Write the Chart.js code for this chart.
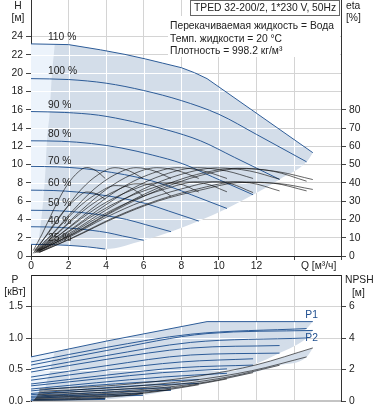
<!DOCTYPE html>
<html>
<head>
<meta charset="utf-8">
<script src="https://cdn.jsdelivr.net/npm/chart.js@4.4.0/dist/chart.umd.min.js"></script>
<style>
  body { margin: 0; background: #fff; width: 378px; height: 410px; overflow: hidden; position: relative; }
  #pumpTop { position: absolute; left: 0; top: 0; }
  #pumpBot { position: absolute; left: 0; top: 270px; }
</style>
</head>
<body>
<canvas id="pumpTop" width="378" height="275"></canvas>
<canvas id="pumpBot" width="378" height="140"></canvas>
<script>
const title = 'TPED 32-200/2, 1*230 V, 50Hz';
const infoLines = ['Перекачиваемая жидкость = Вода', 'Темп. жидкости = 20 °C', 'Плотность = 998.2 кг/м³'];

// speed settings, label anchors (Q, H)
const speedLabels = ['110 %', '100 %', '90 %', '80 %', '70 %', '60 %', '50 %', '40 %', '25 %'];
const labelQ = 0.9;
const labelH = [23.9, 20.2, 16.5, 13.35, 10.4, 7.95, 5.75, 3.85, 2.0];

// tick labels
const qTicks = [0, 2, 4, 6, 8, 10, 12];
const hTicks = [0, 2, 4, 6, 8, 10, 12, 14, 16, 18, 20, 22, 24];
const etaTicks = [0, 10, 20, 30, 40, 50, 60, 70, 80];
const pTicks = [0, 0.5, 1.0, 1.5];
const npshTicks = [0, 2, 4, 6];

// head curves H [m] vs Q [m3/h], one row per speed (110 % is power limited after the kink)
const headQ = [
  [0, 2, 3.7, 5, 6.1, 7, 8, 8.7, 9.37, 15.0],
  [0, 2, 4, 6, 8, 10, 12, 14.67],
  [0, 1.8, 3.6, 5.41, 7.22, 9.02, 10.82, 13.23],
  [0, 1.61, 3.22, 4.84, 6.45, 8.06, 9.67, 11.82],
  [0, 1.42, 2.84, 4.27, 5.69, 7.11, 8.53, 10.43],
  [0, 1.22, 2.44, 3.65, 4.87, 6.09, 7.31, 8.93],
  [0, 1.02, 2.03, 3.05, 4.06, 5.08, 6.1, 7.45],
  [0, 0.81, 1.62, 2.44, 3.25, 4.06, 4.87, 6.0],
  [0, 1, 2, 3, 3.95]
];
const headH = [
  [23.2, 23.12, 22.55, 22.05, 21.55, 21.1, 20.6, 20.05, 19.4, 11.3],
  [19.4, 19.3, 18.9, 18.1, 17.0, 15.5, 13.3, 10.3],
  [15.8, 15.7, 15.4, 14.7, 13.8, 12.6, 10.8, 8.38],
  [12.6, 12.55, 12.3, 11.8, 11.05, 10.1, 8.65, 6.7],
  [9.8, 9.75, 9.55, 9.15, 8.6, 7.8, 6.7, 5.2],
  [7.2, 7.16, 7.0, 6.7, 6.3, 5.75, 4.93, 3.82],
  [5.0, 4.98, 4.88, 4.67, 4.39, 4.0, 3.43, 2.66],
  [3.2, 3.18, 3.12, 2.99, 2.8, 2.56, 2.19, 1.72],
  [1.27, 1.25, 1.16, 1.0, 0.76]
];
// lower edge of the operating range
const limitQ = [0, 1, 2, 3, 3.95, 6.0, 7.45, 8.93, 10.43, 11.82, 13.23, 14.67, 15.0];
const limitH = [1.27, 1.25, 1.16, 1.0, 0.76, 1.72, 2.66, 3.82, 5.2, 6.7, 8.38, 10.3, 11.3];
// minimum flow zone
const minFlowTopQ = [0, 1.27];
const minFlowTopH = [23.2, 23.15];
const minFlowQ = [0, 0.35, 0.5, 0.6, 0.7, 0.78, 0.85, 1.0, 1.1, 1.27];
const minFlowH = [1.27, 1.27, 3.2, 5.0, 7.2, 9.8, 12.6, 15.8, 19.4, 23.15];

// efficiency curves [%]
const etaQ = [
  [0.45, 2.25, 4.5, 6.75, 9.0, 11.25, 13.2, 15.0],
  [0.44, 2.2, 4.4, 6.6, 8.8, 11.0, 12.91, 14.67],
  [0.4, 1.98, 3.97, 5.95, 7.94, 9.92, 11.64, 13.23],
  [0.35, 1.77, 3.55, 5.32, 7.09, 8.87, 10.4, 11.82],
  [0.31, 1.56, 3.13, 4.69, 6.26, 7.82, 9.18, 10.43],
  [0.27, 1.34, 2.68, 4.02, 5.36, 6.7, 7.86, 8.93],
  [0.22, 1.12, 2.24, 3.35, 4.47, 5.59, 6.56, 7.45],
  [0.18, 0.89, 1.79, 2.68, 3.58, 4.47, 5.24, 5.96],
  [0.12, 0.59, 1.19, 1.78, 2.37, 2.96, 3.48, 3.95]
];
const etaPump = [
  [3, 12, 25, 36, 44, 47.8, 46, 41.8],
  [3, 12, 25, 36.5, 44.5, 48, 46.3, 40.9],
  [3, 12, 25, 36.5, 44.5, 48.2, 46.5, 42],
  [3, 12, 25, 36.5, 44.5, 48.3, 46.5, 42.4],
  [3, 12, 25, 36.5, 44.5, 48.3, 46.5, 42.4],
  [3, 12, 25, 36.5, 44.5, 48.3, 46.5, 42.4],
  [3, 12, 25, 36.5, 44.5, 48.3, 46.5, 42.4],
  [3, 12, 25, 36.5, 44.5, 48.3, 46.5, 42.4],
  [3, 12, 25, 36.5, 44.5, 48.4, 46.5, 42.4]
];
const etaTotal = [
  [2, 10, 21, 30, 36, 40.2, 39.6, 36.4],
  [2, 10, 21, 30, 36.5, 40.5, 39.8, 35.6],
  [2, 10, 21, 30, 36.5, 40.6, 40, 35.6],
  [2, 10, 21, 30, 36.5, 40.6, 40, 34.7],
  [2, 10, 21, 30, 36.5, 40.5, 39.8, 35.1],
  [2, 10, 20.5, 29.5, 36, 40, 39.5, 35],
  [2, 9.5, 20, 29, 35.5, 39.5, 38.5, 32.7],
  [1.5, 9, 19, 28, 34.5, 38.5, 37.5, 33],
  [1.5, 8, 17, 25, 31, 35, 34, 31]
];

// power curves P1 / P2 [kW]
const pQ = [
  [0, 4, 9.37, 15.0],
  [0, 4, 8.5, 14.67],
  [0, 4, 8.5, 13.23],
  [0, 4, 8, 11.82],
  [0, 3.5, 7, 10.43],
  [0, 3, 6, 8.93],
  [0, 2.5, 5, 7.45],
  [0, 2, 4, 5.96],
  [0, 2, 3.95]
];
const p1 = [
  [0.70, 0.95, 1.26, 1.26],
  [0.62, 0.85, 1.06, 1.15],
  [0.46, 0.66, 0.84, 0.88],
  [0.33, 0.49, 0.62, 0.67],
  [0.24, 0.35, 0.45, 0.51],
  [0.16, 0.24, 0.30, 0.34],
  [0.10, 0.15, 0.19, 0.21],
  [0.06, 0.085, 0.105, 0.12],
  [0.02, 0.03, 0.04]
];
const p2 = [
  [0.57, 0.80, 1.07, 1.12],
  [0.51, 0.72, 0.93, 1.00],
  [0.38, 0.56, 0.73, 0.76],
  [0.27, 0.41, 0.53, 0.57],
  [0.19, 0.29, 0.38, 0.44],
  [0.12, 0.19, 0.25, 0.28],
  [0.075, 0.115, 0.15, 0.17],
  [0.045, 0.065, 0.08, 0.09],
  [0.012, 0.018, 0.025]
];
const pEdgeQ = [0, 2, 3.95, 5.96, 7.45, 8.93, 10.43, 11.82, 13.23, 14.67, 15.0];
const p1Edge = [0.02, 0.03, 0.04, 0.12, 0.21, 0.34, 0.51, 0.67, 0.88, 1.15, 1.26];
const p2Edge = [0.012, 0.018, 0.025, 0.09, 0.17, 0.28, 0.44, 0.57, 0.76, 1.0, 1.12];
const pMinTopQ = [0, 1.27];
const pMinTop = [0.70, 0.78];
const pMinQ = [0, 0.35, 0.5, 0.6, 0.7, 0.78, 0.85, 1.0, 1.1, 1.27];
const pMin = [0.0, 0.02, 0.06, 0.10, 0.16, 0.23, 0.32, 0.45, 0.60, 0.78];

// NPSH curves [m]
const npshQ = [
  [0.45, 4.5, 9.0, 12.0, 15.0],
  [0.44, 4.4, 8.8, 11.74, 14.67],
  [0.4, 3.97, 7.94, 10.58, 13.23],
  [0.35, 3.55, 7.09, 9.46, 11.82],
  [0.31, 3.13, 6.26, 8.34, 10.43],
  [0.27, 2.68, 5.36, 7.14, 8.93],
  [0.22, 2.24, 4.47, 5.96, 7.45],
  [0.18, 1.79, 3.58, 4.77, 5.96],
  [0.12, 1.19, 2.37, 3.16, 3.95]
];
const npsh = [
  [0.75, 1.0, 1.6, 2.3, 3.37],
  [0.62, 0.84, 1.34, 1.92, 2.8],
  [0.5, 0.68, 1.08, 1.55, 2.27],
  [0.4, 0.54, 0.86, 1.23, 1.8],
  [0.31, 0.42, 0.67, 0.96, 1.4],
  [0.23, 0.31, 0.49, 0.7, 1.03],
  [0.16, 0.21, 0.34, 0.49, 0.72],
  [0.1, 0.14, 0.22, 0.31, 0.46],
  [0.04, 0.05, 0.09, 0.12, 0.18]
];
const npshEdgeQ = [0.12, 1.19, 2.37, 3.16, 3.95, 5.96, 7.45, 8.93, 10.43, 11.82, 13.23, 14.67, 15.0];
const npshEdge = [0.04, 0.05, 0.09, 0.12, 0.18, 0.46, 0.72, 1.03, 1.4, 1.8, 2.27, 2.8, 3.37];

const FONT = '"Liberation Sans", Arial, sans-serif';
const FS = 10.3;
Chart.defaults.font.family = FONT;
Chart.defaults.font.size = FS;
Chart.defaults.color = '#222';

const SHADE = '#d3dde9';
const LIGHT = '#ecf3fb';
const BLUE = '#2d5c98';
const INK = 'rgba(15,15,15,0.8)';
const GRID = '#d4d4d4';
const NONE = 'rgba(0,0,0,0)';

const pts = (xs, ys) => xs.map((x, i) => ({ x: x, y: ys[i] }));

function curve(xs, ys, color, width, axis, order, sharp) {
  return { data: pts(xs, ys), xAxisID: 'x', yAxisID: axis, borderColor: color, borderWidth: width,
    pointRadius: 0, fill: false, order: order, tension: 0,
    cubicInterpolationMode: sharp ? 'default' : 'monotone' };
}
function area(xs, ys, color, axis, order, sharp) {
  const d = curve(xs, ys, NONE, 1, axis, order, sharp);
  d.backgroundColor = color;
  d.fill = '+1';
  return d;
}
function edge(xs, ys, axis, order) {
  return curve(xs, ys, NONE, 1, axis, order, false);
}

function sideAxis(pos, min, max, step, width, shown, fmt, gridOn) {
  const on = v => shown.some(t => Math.abs(t - v) < 1e-6);
  return {
    type: 'linear', position: pos, min: min, max: max,
    afterFit: s => { s.width = width; s.paddingTop = 0; s.paddingBottom = 0; },
    ticks: { stepSize: step, padding: 3, autoSkip: false, callback: v => on(v) ? fmt(v) : '' },
    grid: {
      drawOnChartArea: gridOn, tickLength: 5,
      color: c => (c.tick && on(c.tick.value)) ? GRID : NONE,
      tickColor: c => (c.tick && on(c.tick.value)) ? '#444' : NONE
    },
    border: { color: '#333', width: 1 }
  };
}

// grid shows white where it crosses the shaded operating range
function whiteGrid(bands, hValues) {
  return {
    id: 'whiteGrid',
    beforeDatasetsDraw(chart) {
      const c = chart.ctx, a = chart.chartArea, sx = chart.scales.x, sy = chart.scales.y;
      bands.forEach(b => {
        const up = chart.getDatasetMeta(b[0]).dataset;
        const lo = chart.getDatasetMeta(b[1]).dataset;
        if (!up.segments.length || !lo.segments.length) return;
        c.save();
        c.beginPath();
        c.rect(a.left, a.top, a.width, a.height);
        c.clip();
        c.beginPath();
        up.pathSegment(c, up.segments[0], { move: true });
        lo.pathSegment(c, lo.segments[0], { move: false, reverse: true });
        c.closePath();
        c.clip();
        c.strokeStyle = '#fff';
        c.lineWidth = 1;
        c.beginPath();
        for (let q = 2; q <= 16; q += 2) {
          const x = Math.round(sx.getPixelForValue(q)) + 0.5;
          c.moveTo(x, a.top); c.lineTo(x, a.bottom);
        }
        hValues.forEach(v => {
          const y = Math.round(sy.getPixelForValue(v)) + 0.5;
          c.moveTo(a.left, y); c.lineTo(a.right, y);
        });
        c.stroke();
        c.restore();
      });
    }
  };
}

// ---------- top chart: head + efficiency ----------
const topSets = [
  area(headQ[0], headH[0], SHADE, 'y', 40, true),
  edge(limitQ, limitH, 'y', 40),
  area(minFlowTopQ, minFlowTopH, LIGHT, 'y', 30, false),
  edge(minFlowQ, minFlowH, 'y', 30)
];
headQ.forEach((q, i) => topSets.push(curve(q, headH[i], BLUE, 1, 'y', 10, i === 0)));
etaQ.forEach((q, i) => {
  topSets.push(curve(q, etaPump[i], INK, 0.8, 'y2', 5, false));
  topSets.push(curve(q, etaTotal[i], INK, 0.8, 'y2', 5, false));
});

const topText = {
  id: 'topText',
  afterDatasetsDraw(chart) {
    const c = chart.ctx, sx = chart.scales.x, sy = chart.scales.y;
    c.save();
    c.font = FS + 'px ' + FONT;
    c.textBaseline = 'middle';
    c.textAlign = 'left';
    c.fillStyle = '#222';
    speedLabels.forEach((s, i) => c.fillText(s, sx.getPixelForValue(labelQ), sy.getPixelForValue(labelH[i])));
    c.fillStyle = '#fff';
    c.fillRect(168, 16, 172, 41);
    c.fillStyle = '#222';
    infoLines.forEach((t, i) => c.fillText(t, 170, 26.5 + i * 12.3));
    c.fillStyle = '#fff';
    c.fillRect(190.5, 0.5, 149, 15);
    c.strokeStyle = '#666';
    c.lineWidth = 1;
    c.strokeRect(190.5, 0.5, 149, 15);
    c.fillStyle = '#222';
    c.fillText(title, 194, 8.5);
    c.textAlign = 'center';
    c.fillText('H', 18, 6.5);
    c.fillText('[м]', 18, 18.5);
    c.textAlign = 'left';
    c.fillText('eta', 346, 6.5);
    c.fillText('[%]', 346, 18.5);
    c.fillText('Q [м³/ч]', 301, 266.5);
    c.restore();
  }
};

new Chart(document.getElementById('pumpTop'), {
  type: 'line',
  data: { datasets: topSets },
  options: {
    responsive: false, animation: false, events: [],
    layout: { padding: 0 },
    plugins: { legend: { display: false }, tooltip: { enabled: false }, filler: { drawTime: 'beforeDatasetsDraw' } },
    scales: {
      x: {
        type: 'linear', min: 0, max: 16.5,
        afterFit: s => { s.height = 19; s.paddingLeft = 0; s.paddingRight = 0; },
        ticks: { stepSize: 2, padding: 0, autoSkip: false, maxRotation: 0,
          callback: v => qTicks.includes(v) ? String(v) : '' },
        grid: { color: GRID, tickLength: 4, tickColor: '#444' },
        border: { color: '#222', width: 1 }
      },
      y: sideAxis('left', 0, 28, 2, 31, hTicks, v => String(v), true),
      y2: sideAxis('right', 0, 140, 10, 37, etaTicks, v => String(v), false)
    }
  },
  plugins: [whiteGrid([[0, 1]], hTicks.slice(1)), topText]
});

// ---------- bottom chart: power + NPSH ----------
const botSets = [
  area(pQ[0], p1[0], SHADE, 'y', 40, true),
  edge(pEdgeQ, p1Edge, 'y', 40),
  area(pQ[0], p2[0], SHADE, 'y', 40, false),
  edge(pEdgeQ, p2Edge, 'y', 40),
  area(npshQ[0], npsh[0], SHADE, 'y2', 40, false),
  edge(npshEdgeQ, npshEdge, 'y2', 40),
  area(pMinTopQ, pMinTop, LIGHT, 'y', 30, false),
  edge(pMinQ, pMin, 'y', 30)
];
pQ.forEach((q, i) => {
  botSets.push(curve(q, p1[i], BLUE, 1, 'y', 10, i === 0));
  botSets.push(curve(q, p2[i], BLUE, 1, 'y', 10, false));
});
npshQ.forEach((q, i) => botSets.push(curve(q, npsh[i], INK, 0.8, 'y2', 5, false)));

const botText = {
  id: 'botText',
  afterDatasetsDraw(chart) {
    const c = chart.ctx, sx = chart.scales.x, sy = chart.scales.y;
    c.save();
    c.font = FS + 'px ' + FONT;
    c.textBaseline = 'middle';
    c.fillStyle = '#222';
    c.textAlign = 'center';
    c.fillText('P', 15, 10.5);
    c.fillText('[кВт]', 15, 22);
    c.textAlign = 'left';
    c.fillText('NPSH', 345, 10.5);
    c.fillText('[м]', 352, 23);
    c.fillStyle = '#1f4f8f';
    c.fillText('P1', sx.getPixelForValue(14.6), sy.getPixelForValue(1.355));
    c.fillText('P2', sx.getPixelForValue(14.6), sy.getPixelForValue(1.0));
    c.restore();
  }
};

new Chart(document.getElementById('pumpBot'), {
  type: 'line',
  data: { datasets: botSets },
  options: {
    responsive: false, animation: false, events: [],
    layout: { padding: { top: 5, left: 0, right: 0, bottom: 0 } },
    plugins: { legend: { display: false }, tooltip: { enabled: false }, filler: { drawTime: 'beforeDatasetsDraw' } },
    scales: {
      x: {
        type: 'linear', min: 0, max: 16.5,
        afterFit: s => { s.height = 9; s.paddingLeft = 0; s.paddingRight = 0; },
        ticks: { display: false, stepSize: 2 },
        grid: { color: GRID, drawTicks: false },
        border: { color: '#c4c4c4', width: 2 }
      },
      xt: {
        type: 'linear', axis: 'x', position: 'top', min: 0, max: 16.5,
        afterFit: s => { s.height = 0; s.paddingLeft = 0; s.paddingRight = 0; },
        ticks: { display: false },
        grid: { display: false },
        border: { color: '#222', width: 1 }
      },
      y: sideAxis('left', 0, 2, 0.5, 31, pTicks, v => v.toFixed(1), true),
      y2: sideAxis('right', 0, 8, 2, 37, npshTicks, v => String(v), false)
    }
  },
  plugins: [whiteGrid([[0, 1], [2, 3]], [0.5, 1.0, 1.5]), botText]
});
</script>
</body>
</html>
